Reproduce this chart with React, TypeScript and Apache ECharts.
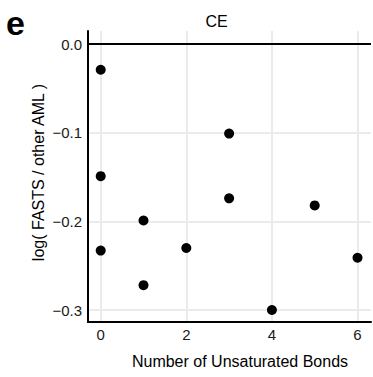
import React, { useEffect, useRef } from "react";
import * as echarts from "echarts";

const bondsX = [0, 0, 0, 1, 1, 2, 3, 3, 4, 5, 6];
const logRatioY = [-0.029, -0.149, -0.233, -0.199, -0.272, -0.230, -0.101, -0.174, -0.300, -0.182, -0.241];
const xTicks = [0, 2, 4, 6];
const yTicks = [-0.3, -0.2, -0.1, 0.0];
const panelLabel = "e";
const chartTitle = "CE";
const xTitle = "Number of Unsaturated Bonds";
const yTitle = "log( FASTS / other AML )";

const FONT = "'Liberation Sans', Arial, sans-serif";

export default function App() {
  const ref = useRef<HTMLDivElement>(null);
  useEffect(() => {
    if (!ref.current) return;
    const chart = echarts.init(ref.current, null, { renderer: "svg" });
    const points = bondsX.map((x, i) => [x, logRatioY[i]]);
    chart.setOption({
      animation: false,
      backgroundColor: "#ffffff",
      textStyle: { fontFamily: FONT },
      grid: { left: 88, right: 2, top: 31, bottom: 55, containLabel: false },
      xAxis: {
        type: "value",
        min: -0.297,
        max: 6.315,
        axisLine: { show: true, onZero: false, lineStyle: { color: "#000", width: 2 } },
        axisTick: { show: false, customValues: xTicks },
        axisLabel: {
          customValues: xTicks,
          color: "#1a1a1a",
          fontSize: 15,
          fontFamily: FONT,
          margin: 5,
          formatter: (v: number) => String(v),
        },
        splitLine: { show: true, lineStyle: { color: "#ebebeb", width: 2 } },
      },
      yAxis: {
        type: "value",
        min: -0.3135,
        max: 0.0147,
        axisLine: { show: true, onZero: false, lineStyle: { color: "#000", width: 2 } },
        axisTick: { show: false, customValues: yTicks },
        axisLabel: {
          customValues: yTicks,
          color: "#1a1a1a",
          fontSize: 15,
          fontFamily: FONT,
          margin: 6,
          formatter: (v: number) => (v < 0 ? "\u2212" + Math.abs(v).toFixed(1) : v.toFixed(1)),
        },
        splitLine: { show: true, lineStyle: { color: "#ebebeb", width: 2 } },
      },
      graphic: [
        {
          type: "text",
          x: 15.5,
          y: 23,
          style: { text: panelLabel, fontSize: 34, fontWeight: "bold", fontFamily: FONT, fill: "#000", align: "center", verticalAlign: "middle" },
        },
        {
          type: "text",
          x: 216.5,
          y: 21.2,
          style: { text: chartTitle, fontSize: 16, fontFamily: FONT, fill: "#000", align: "center", verticalAlign: "middle" },
        },
        {
          type: "text",
          x: 240,
          y: 361.3,
          style: { text: xTitle, fontSize: 16, fontFamily: FONT, fill: "#000", align: "center", verticalAlign: "middle" },
        },
        {
          type: "text",
          x: 38,
          y: 172.5,
          rotation: Math.PI / 2,
          style: { text: yTitle, fontSize: 16, fontFamily: FONT, fill: "#000", align: "center", verticalAlign: "middle" },
        },
      ],
      series: [
        {
          type: "scatter",
          data: points,
          symbol: "circle",
          symbolSize: 10,
          itemStyle: { color: "#000", opacity: 1 },
          z: 5,
          markLine: {
            silent: true,
            symbol: ["none", "none"],
            label: { show: false },
            lineStyle: { color: "#000", width: 2, type: "solid" },
            data: [{ yAxis: 0 }],
          },
        },
      ],
    });
    return () => chart.dispose();
  }, []);
  return <div ref={ref} style={{ width: 373, height: 377, position: "absolute", left: 0, top: 0 }} />;
}
